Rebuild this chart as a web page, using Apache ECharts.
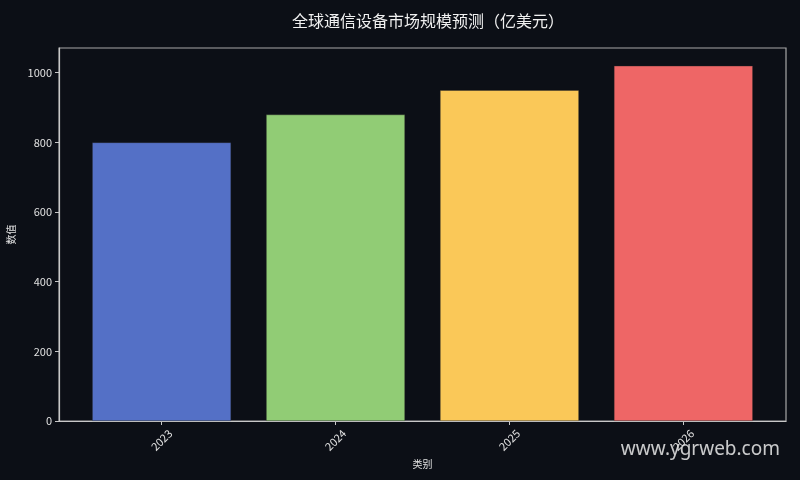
<!DOCTYPE html>
<html>
<head>
<meta charset="utf-8">
<script src="https://cdn.jsdelivr.net/npm/echarts@6/dist/echarts.min.js"></script>
<style>
html,body{margin:0;padding:0;background:#0c0f16;}
#c{width:800px;height:480px;}
</style>
</head>
<body>
<div id="c"></div>
<script>
const titleText = '全球通信设备市场规模预测（亿美元）';
const categories = ['2023', '2024', '2025', '2026'];
const values = [800, 880, 950, 1020];
const colors = ['#5470c6', '#91cc75', '#fac858', '#ee6666'];
const yTicks = [0, 200, 400, 600, 800, 1000];

const chart = echarts.init(document.getElementById('c'));
const fontFam = '"Noto Sans CJK SC", "DejaVu Sans", sans-serif';
chart.setOption({
  backgroundColor: '#0c0f16',
  animation: false,
  title: {
    text: titleText,
    left: 287,
    top: 8,
    textStyle: { color: '#f0f0f0', fontSize: 16, fontWeight: 'normal', fontFamily: fontFam }
  },
  grid: {
    left: 59, right: 14, top: 48, bottom: 59,
    outerBoundsMode: 'none', containLabel: false,
    show: true, borderColor: '#a8a8a8', borderWidth: 1.2, backgroundColor: 'transparent'
  },
  xAxis: {
    type: 'value',
    min: -0.59, max: 3.59,
    name: '类别',
    nameLocation: 'middle',
    nameGap: 34,
    nameTextStyle: { color: '#e0e0e0', fontSize: 10, fontFamily: fontFam },
    splitLine: { show: false },
    axisLine: { show: true, onZero: false, lineStyle: { color: '#c8c8c8', width: 1.2 } },
    axisTick: { show: true, customValues: categories.map((c, i) => i), length: 4, lineStyle: { color: '#c8c8c8' } },
    axisLabel: {
      customValues: categories.map((c, i) => i),
      formatter: v => categories[Math.round(v)] ?? '',
      rotate: 45, align: 'center', verticalAlign: 'middle',
      color: '#e0e0e0', fontSize: 11, margin: 19, fontFamily: fontFam
    }
  },
  yAxis: {
    type: 'value',
    min: 0, max: 1071,
    name: '数值',
    nameLocation: 'middle',
    nameGap: 34,
    nameTextStyle: { color: '#e0e0e0', fontSize: 10, fontFamily: fontFam },
    splitLine: { show: false },
    axisLine: { show: true, onZero: false, lineStyle: { color: '#c8c8c8', width: 1.2 } },
    axisTick: { show: true, customValues: yTicks, length: 4, lineStyle: { color: '#c8c8c8' } },
    axisLabel: { customValues: yTicks, formatter: v => String(v), color: '#e0e0e0', fontSize: 11, margin: 7, fontFamily: fontFam }
  },
  graphic: [{
    type: 'text',
    right: 20, bottom: 21,
    style: { text: 'www.ygrweb.com', fill: 'rgba(235,235,235,0.85)', font: '19px "Noto Sans", "DejaVu Sans", sans-serif' }
  }],
  series: [{
    type: 'bar',
    barWidth: 139,
    data: values.map((v, i) => ({ value: [i, v], itemStyle: { color: colors[i], borderColor: 'rgba(40,40,40,0.6)', borderWidth: 0.6 } }))
  }]
});
</script>
</body>
</html>
